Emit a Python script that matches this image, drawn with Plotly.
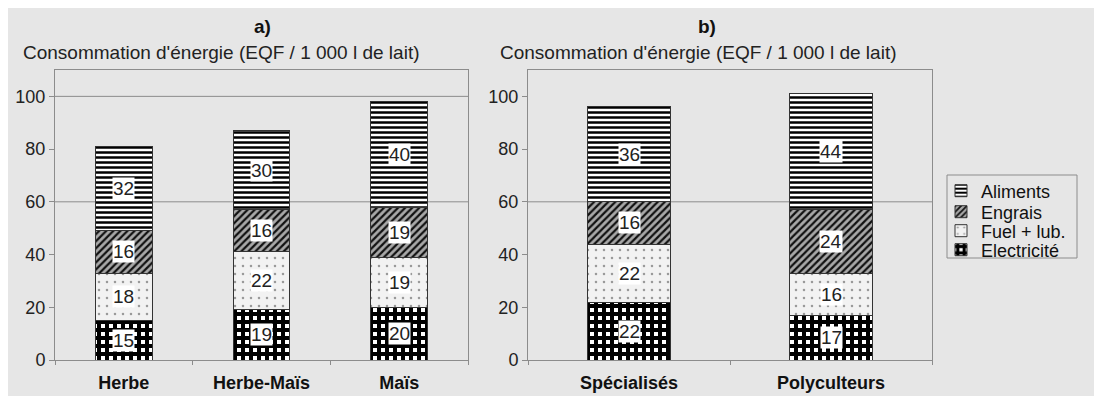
import plotly.graph_objects as go

W, H = 1094, 388

cats_a = ["Herbe", "Herbe-Maïs", "Maïs"]
cats_b = ["Spécialisés", "Polyculteurs"]

series = ["Electricité", "Fuel + lub.", "Engrais", "Aliments"]
vals_a = {
    "Electricité": [15, 19, 20],
    "Fuel + lub.": [18, 22, 19],
    "Engrais": [16, 16, 19],
    "Aliments": [32, 30, 40],
}
vals_b = {
    "Electricité": [22, 17],
    "Fuel + lub.": [22, 16],
    "Engrais": [16, 24],
    "Aliments": [36, 44],
}
y_ticks = [0, 20, 40, 60, 80, 100]
ylabel = "Consommation d'énergie (EQF / 1 000 l de lait)"

FONT = "Liberation Sans, Arial, sans-serif"
BG = "#e6e6e6"

patterns = {
    "Aliments": dict(shape="-", fgcolor="#000000", bgcolor="#ffffff", size=5, solidity=0.5),
    "Engrais": dict(shape="/", fgcolor="#111111", bgcolor="#a8a8a8", size=5, solidity=0.45),
    "Fuel + lub.": dict(shape=".", fgcolor="#9a9a9a", bgcolor="#f2f2f2", size=8, solidity=0.08),
    "Electricité": dict(shape="+", fgcolor="#000000", bgcolor="#ffffff", size=8, solidity=0.75),
}
legend_slot = {"Aliments": "legend", "Engrais": "legend2",
               "Fuel + lub.": "legend3", "Electricité": "legend4"}
legend_yc = {"legend": 183, "legend2": 204, "legend3": 223, "legend4": 242}

fig = go.Figure()

def add_panel(cats, vals, xa, ya, showlegend):
    base = [0] * len(cats)
    for s in series:
        v = vals[s]
        fig.add_trace(go.Bar(
            x=cats, y=v, name=s, xaxis=xa, yaxis=ya, showlegend=showlegend,
            legend=legend_slot[s],
            marker=dict(color="#ffffff", pattern=patterns[s],
                        line=dict(color="#333333", width=1)),
            hoverinfo="skip",
        ))
        for i, c in enumerate(cats):
            fig.add_annotation(
                x=c, y=base[i] + v[i] / 2, xref=xa, yref=ya, text=str(v[i]),
                showarrow=False, bgcolor="#ffffff", borderpad=0,
                font=dict(family=FONT, size=19, color="#222222"),
            )
            base[i] += v[i]

add_panel(cats_a, vals_a, "x", "y", True)
add_panel(cats_b, vals_b, "x2", "y2", False)

ydom = [36 / H, 326 / H]
axis_common = dict(showline=True, mirror=True, linecolor="#8c8c8c", linewidth=1,
                   showgrid=False, zeroline=False, automargin=False)
xax = dict(axis_common, ticks="outside", tickson="boundaries", ticklen=4,
           tickcolor="#8c8c8c", ticklabelstandoff=6,
           tickfont=dict(family=FONT, size=18, color="#111111", weight="bold"))
yax = dict(axis_common, range=[0, 110], tickvals=y_ticks, ticks="outside", ticklen=5,
           tickcolor="#8c8c8c", ticklabelstandoff=0,
           tickfont=dict(family=FONT, size=18, color="#222222"))

leg_common = dict(x=933 / W, xanchor="left", yanchor="middle", bgcolor="rgba(0,0,0,0)",
                  borderwidth=0, font=dict(family=FONT, size=18, color="#111111"),
                  itemwidth=30)
legends = {k: dict(leg_common, y=1 - yc / H) for k, yc in legend_yc.items()}

fig.update_layout(
    width=W, height=H, margin=dict(l=0, r=0, t=0, b=0),
    template="none",
    paper_bgcolor=BG, plot_bgcolor=BG,
    barmode="stack", bargap=0.59,
    font=dict(family=FONT, color="#222222"),
    xaxis=dict(xax, domain=[47 / W, 460 / W], anchor="y"),
    yaxis=dict(yax, domain=ydom, anchor="x"),
    xaxis2=dict(xax, domain=[520 / W, 924 / W], anchor="y2"),
    yaxis2=dict(yax, domain=ydom, anchor="x2"),
    showlegend=True,
    **legends,
)

# legend frame
fig.add_shape(type="rect", xref="paper", yref="paper", x0=939 / W, x1=1069 / W,
              y0=1 - 250 / H, y1=1 - 167 / H, line=dict(color="#8c8c8c", width=1),
              fillcolor="rgba(0,0,0,0)", layer="below")

# horizontal gridlines
for ya, xa, levels in (("y", "x", [60, 100]), ("y2", "x2", [60])):
    for lv in levels:
        fig.add_shape(type="line", xref=f"{xa} domain", yref=ya, x0=0, x1=1, y0=lv, y1=lv,
                      line=dict(color="#8c8c8c", width=1), layer="below")

# titles
for xc, t in ((254, "a)"), (699, "b)")):
    fig.add_annotation(x=xc / W, y=1 - 18 / H, xref="paper", yref="paper", text=f"<b>{t}</b>",
                       xanchor="center", yanchor="middle", showarrow=False,
                       font=dict(family=FONT, size=19, color="#111111"))
for xl in (13, 490):
    fig.add_annotation(x=xl / W, y=1 - 44 / H, xref="paper", yref="paper", text=ylabel,
                       xanchor="left", yanchor="middle", showarrow=False,
                       font=dict(family=FONT, size=19, color="#222222"))

fig.write_html("out.html")
